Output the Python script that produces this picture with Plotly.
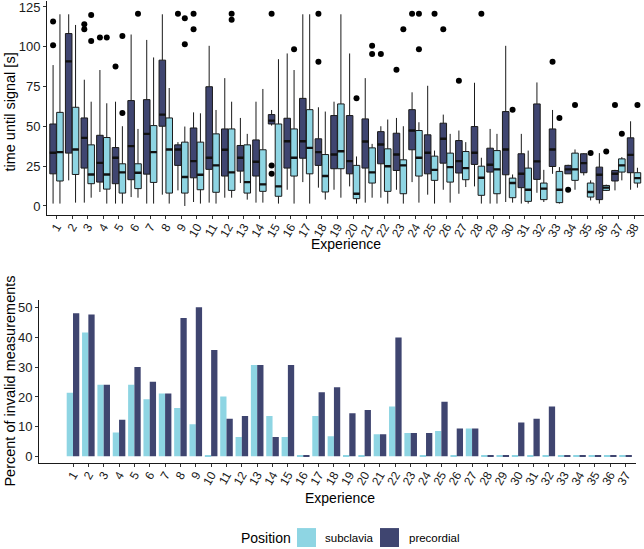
import plotly.graph_objects as go

# ---------------- data ----------------
experience_top = list(range(1, 39))
experience_bottom = list(range(1, 38))

# precordial (dark) box statistics
pre_q1 = [20.2,33.2,23.8,15.0,14.0,16.5,20.0,50.1,25.5,17.7,23.0,18.8,21.9,18.8,51.5,23.8,30.0,25.5,23.4,20.2,23.8,26.5,22.3,35.3,20.2,26.9,20.7,26.1,21.3,19.6,11.5,16.7,24.8,20.2,20.9,4.0,15.7,20.9]
pre_med = [33.4,90.8,42.8,27.1,30.3,37.6,45.3,57.4,35.5,28.2,30.3,35.3,30.3,27.8,53.6,40.7,40.7,33.8,32.3,28.2,40.5,38.6,32.3,47.4,33.4,42.2,28.2,33.4,25.9,35.5,20.2,28.0,35.5,23.0,26.9,19.6,20.2,32.1]
pre_q3 = [51.5,108.3,55.3,44.4,36.7,66.2,66.8,91.6,38.4,49.0,74.9,48.4,38.0,41.5,57.4,55.1,67.6,42.2,56.8,56.8,54.7,46.7,45.7,60.5,44.7,52.0,41.1,49.9,36.3,59.3,32.8,64.1,48.4,25.5,32.8,24.4,22.3,42.8]
pre_lo = [1.5,16.1,2.1,8.8,1.5,5.6,1.5,7.1,9.8,2.5,2.1,5.2,14.4,2.1,50.5,10.2,15.0,11.5,10.2,12.3,2.1,5.2,10.2,15.0,7.1,10.2,7.7,12.3,1.5,2.5,1.5,8.3,20.2,20.2,19.2,1.5,9.8,10.2]
pre_hi = [88.5,120.4,79.3,85.4,65.5,107.7,104.3,120.4,40.1,58.8,100.6,80.3,55.3,65.5,60.3,95.8,120.4,62.0,65.5,95.8,80.3,50.1,55.3,71.4,75.5,57.4,47.4,77.4,48.4,100.6,45.3,77.6,60.3,25.9,33.2,33.2,22.7,53.2]
pre_out_exp = [1,1,3,3,4,5,9,10,10,15,15,15,18,18,22,23,24,26,27,33,34,37]
pre_out_val = [115.8,101.0,114.1,111.0,105.8,87.6,120.8,120.8,111.0,120.8,25.5,20.2,120.8,90.6,95.4,85.6,120.8,111.0,78.7,90.6,10.2,63.4]

# subclavia (light) box statistics
sub_q1 = [15.7,19.8,14.0,10.6,8.1,10.9,14.8,8.1,8.1,10.2,8.6,9.8,8.1,9.2,6.1,18.8,20.2,8.8,23.4,4.6,14.4,9.2,7.7,18.8,16.1,15.0,16.5,6.7,7.7,5.2,2.9,4.0,2.1,16.1,5.6,9.8,21.3,14.4]
sub_med = [33.8,35.5,19.8,19.8,21.1,20.9,33.8,35.5,18.2,19.6,25.5,21.1,15.0,13.6,12.3,30.3,36.5,18.8,34.4,7.7,21.1,25.0,25.5,30.3,22.7,24.4,23.8,17.7,23.0,14.4,10.2,10.9,10.2,23.0,8.8,11.5,25.5,17.5]
sub_q3 = [58.8,62.0,38.4,43.0,26.5,26.5,50.5,55.3,40.1,40.1,45.3,48.4,38.4,35.3,51.5,48.4,60.5,32.3,64.1,25.5,36.5,35.9,29.0,47.4,31.3,33.2,34.2,25.0,34.8,17.5,23.8,14.4,21.7,33.2,14.4,12.9,29.6,20.9]
sub_lo = [1.5,2.1,5.2,1.5,1.5,5.2,1.5,1.5,0.0,1.5,1.5,5.2,4.0,2.1,1.5,1.5,1.5,4.0,5.2,1.5,5.2,1.5,1.5,2.1,1.5,2.1,11.9,1.5,1.5,2.1,1.5,2.5,1.5,10.2,3.5,9.4,16.1,11.5]
sub_hi = [120.4,113.7,65.5,64.5,50.1,48.4,93.3,74.1,49.9,58.2,60.3,65.5,45.3,73.5,92.2,85.4,120.4,59.3,120.4,31.1,39.0,54.3,50.1,52.6,34.8,45.3,40.1,30.3,45.3,19.8,34.8,22.7,24.4,35.5,16.1,13.4,30.7,24.0]
sub_out_exp = [3,3,4,5,5,6,9,9,12,12,16,20,21,21,23,24,24,25,28,30,33,34,35,36,37,38]
sub_out_val = [120.0,103.7,105.8,106.8,58.4,120.8,117.9,101.6,120.8,116.9,98.5,67.6,100.6,95.4,111.0,120.8,98.5,120.8,120.8,60.5,55.3,63.4,33.2,34.2,45.3,63.4]

# percent invalid measurements
invalid_sub = [21.4,41.7,24.1,8.0,24.1,19.2,21.2,16.3,10.8,0.3,20.2,6.5,30.8,13.6,6.5,0.3,13.6,6.8,0.3,0.3,7.4,16.8,7.9,0.3,8.5,0.3,9.4,0.3,0.3,0.3,0.3,0.3,0.3,0.3,0.3,0.3,0.3]
invalid_pre = [48.2,47.8,24.1,12.3,30.1,25.1,21.2,46.6,50.2,35.8,12.7,13.6,30.8,6.5,30.8,0.3,21.6,23.3,14.5,15.6,7.4,40.0,7.9,7.9,18.4,9.4,9.4,0.3,0.3,11.4,12.7,16.8,0.3,0.3,0.3,0.3,0.3]

# ---------------- style ----------------
LIGHT = "#8ED5E3"
DARK = "#3F4570"
FONT = "Liberation Sans, Arial, sans-serif"
W, H = 644, 549
OFF = 0.22
BW = 0.42

fig = go.Figure()

def add_boxes(q1, med, q3, lo, hi, out_exp, out_val, offset, color, name):
    xs = [c + offset for c in experience_top]
    fig.add_trace(go.Box(
        x=xs, q1=q1, median=med, q3=q3, lowerfence=lo, upperfence=hi,
        width=BW, whiskerwidth=0, fillcolor=color,
        line=dict(color="#1a1a1a", width=1), boxpoints=False,
        name=name, showlegend=False, xaxis="x", yaxis="y", hoverinfo="skip"))
    # thicker median lines (ggplot style)
    mx, my = [], []
    for x, m in zip(xs, med):
        mx += [x - BW / 2, x + BW / 2, None]
        my += [m, m, None]
    fig.add_trace(go.Scatter(x=mx, y=my, mode="lines",
                             line=dict(color="#111", width=2.4),
                             showlegend=False, hoverinfo="skip",
                             xaxis="x", yaxis="y"))
    fig.add_trace(go.Scatter(x=[c + offset for c in out_exp], y=out_val,
                             mode="markers",
                             marker=dict(color="black", size=6),
                             showlegend=False, hoverinfo="skip",
                             xaxis="x", yaxis="y"))

add_boxes(pre_q1, pre_med, pre_q3, pre_lo, pre_hi, pre_out_exp, pre_out_val, -OFF, DARK, "precordial")
add_boxes(sub_q1, sub_med, sub_q3, sub_lo, sub_hi, sub_out_exp, sub_out_val, OFF, LIGHT, "subclavia")

fig.add_trace(go.Bar(x=experience_bottom, y=invalid_sub, name="subclavia",
                     marker=dict(color=LIGHT, line=dict(width=0)),
                     xaxis="x2", yaxis="y2", showlegend=False))
fig.add_trace(go.Bar(x=experience_bottom, y=invalid_pre, name="precordial",
                     marker=dict(color=DARK, line=dict(width=0)),
                     xaxis="x2", yaxis="y2", showlegend=False))

axis_common = dict(showline=True, linecolor="#1a1a1a", linewidth=1,
                   ticks="outside", ticklen=3, tickcolor="#333", tickwidth=1,
                   showgrid=False, zeroline=False, ticklabeloverflow="allow",
                   tickfont=dict(family=FONT, size=13, color="#1a1a1a"))
xtick_extra = dict(tickfont=dict(family=FONT, size=12, color="#1a1a1a"),
                   ticklabelstandoff=-4)

fig.update_layout(
    width=W, height=H,
    margin=dict(l=0, r=0, t=0, b=0),
    paper_bgcolor="white", plot_bgcolor="white",
    barmode="group", bargap=0.18, bargroupgap=0,
    showlegend=False,
    xaxis=dict(domain=[47 / W, 1.0], range=[0.39, 38.64], anchor="y",
               tickmode="array", tickvals=experience_top,
               ticktext=[str(v) for v in experience_top], tickangle=-60,
               **{**axis_common, **xtick_extra}),
    yaxis=dict(domain=[1 - 215 / H, 1.0], range=[-5.8, 128.75], anchor="x",
               tickmode="array", tickvals=[0, 25, 50, 75, 100, 125],
               **axis_common),
    xaxis2=dict(domain=[39 / W, 636 / W], range=[-1.215, 37.68], anchor="y2",
                tickmode="array", tickvals=experience_bottom,
                ticktext=[str(v) for v in experience_bottom], tickangle=-60,
                **{**axis_common, **xtick_extra}),
    yaxis2=dict(domain=[1 - 464 / H, 1 - 300 / H], range=[-2.35, 52.7], anchor="x2",
                tickmode="array", tickvals=[0, 10, 20, 30, 40, 50],
                **axis_common),
)

def ann(text, px, py, size, angle=0, xanchor="center"):
    fig.add_annotation(text=text, x=px / W, y=1 - py / H, xref="paper", yref="paper",
                       showarrow=False, textangle=angle, xanchor=xanchor, yanchor="middle",
                       font=dict(family=FONT, size=size, color="black"))

# axis titles
ann("time until signal [s]", 10, 112, 14.5, angle=-90)
ann("Experience", 346, 244, 14)
ann("Percent of invalid measurements", 10, 382, 14.5, angle=-90)
ann("Experience", 340, 499, 14)

# legend
ann("Position", 239, 539, 14, xanchor="left")
for color, x0, label, tx in [(LIGHT, 297, "subclavia", 323), (DARK, 380, "precordial", 407)]:
    fig.add_shape(type="rect", xref="paper", yref="paper",
                  x0=x0 / W, x1=(x0 + 19) / W, y0=1 - 548 / H, y1=1 - 529 / H,
                  fillcolor=color, line=dict(width=0))
    ann(label, tx, 539, 11.5, xanchor="left")

fig.write_html("out.html", config={"displayModeBar": False},
               post_script="document.body.style.margin='0px';document.body.style.padding='0px';document.body.style.overflow='hidden';")
